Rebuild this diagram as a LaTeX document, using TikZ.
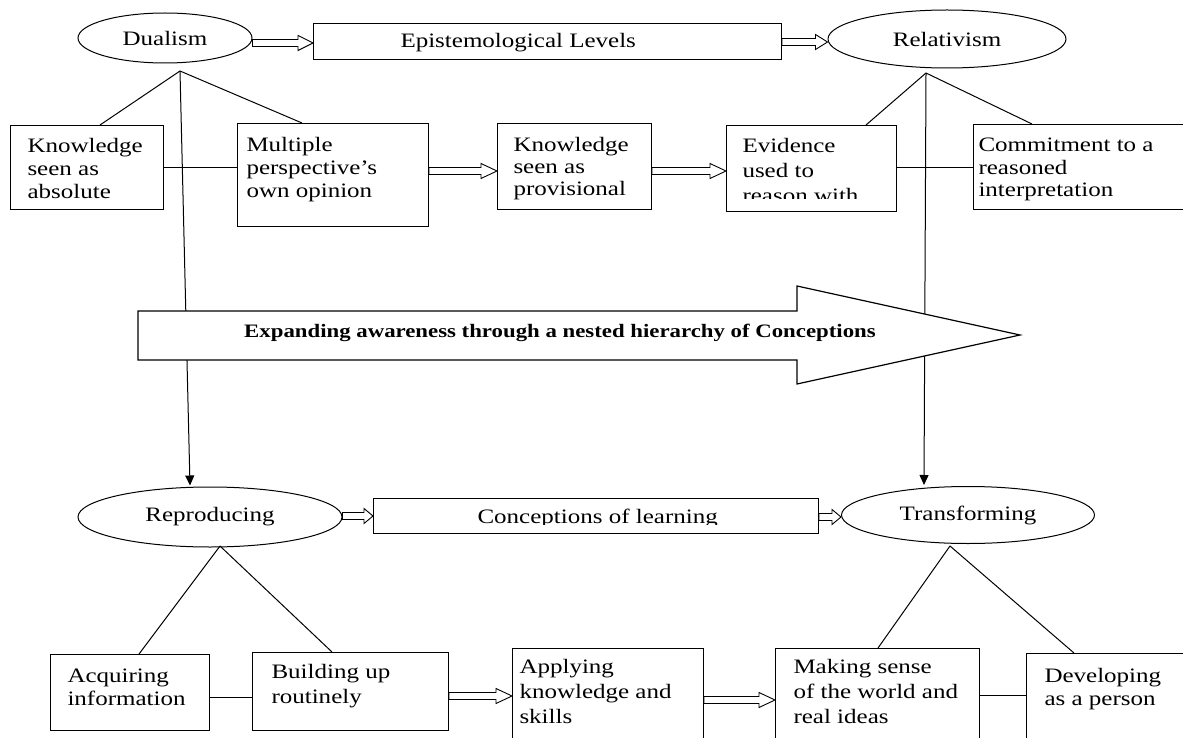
\documentclass[tikz,border=0pt]{standalone}
\usepackage{fontspec}
\setmainfont{Liberation Serif}[FakeStretch=1.22]
\newfontfamily\arrowfont{Liberation Serif}[FakeStretch=1.2]
\usetikzlibrary{shapes.geometric,arrows.meta,calc}
\newcommand\mylines[1]{\begin{tabular}[t]{@{}l@{}}#1\end{tabular}}
\begin{document}
\begin{tikzpicture}[x=1pt,y=-1pt,line width=1pt,
  box/.style={draw, anchor=north west, inner sep=0pt},
  ell/.style={draw, ellipse, inner sep=0pt, font=\fontsize{20.5}{23}\selectfont},
  txt/.style={anchor=base west, inner sep=0pt, font=\fontsize{20.5}{#1}\selectfont},
  txt/.default=23,
  blockarrow/.style={line width=0.9pt, to path={let \p1=(\tikztostart), \p2=(\tikztotarget) in
     (\x1,\y1+3.5pt) -- (\x2-#1,\y1+3.5pt) -- (\x2-#1,\y1+7.5pt) -- (\x2,\y1)
     -- (\x2-#1,\y1-7.5pt) -- (\x2-#1,\y1-3.5pt) -- (\x1,\y1-3.5pt) -- cycle}},
  blockarrow/.default=15pt,
  downarrow/.style={-{Triangle[length=10pt,width=9pt]}}
]
\fill[white] (0,0) rectangle (1183,738);
\useasboundingbox (0,0) rectangle (1183,738);

% ellipses
\node[ell, minimum width=174pt, minimum height=50pt] (dual) at (165,38) {Dualism};
\node[ell, minimum width=238pt, minimum height=58pt] (rel) at (947,39) {Relativism};
\node[ell, minimum width=264pt, minimum height=60pt] (rep) at (210,517) {Reproducing};
\node[ell, minimum width=253pt, minimum height=57pt] (tra) at (968,515) {Transforming};

% wide boxes
\node[box, minimum width=468pt, minimum height=36pt] (epi) at (313,23) {};
\node[box, minimum width=445pt, minimum height=35pt] (con) at (373,498) {};
\node[anchor=base west, inner sep=0pt, font=\fontsize{20.5}{24}\selectfont] (epit) at (400,48) {Epistemological Levels};
\begin{scope}
\clip (con.north west) rectangle (con.east |- 0,524);
\node[txt] (cont) at (477,523) {Conceptions of learning};
\end{scope}

% top boxes
\node[box, minimum width=153pt, minimum height=84pt] (ka) at (10,125) {};
\node[box, minimum width=191pt, minimum height=103pt] (mp) at (237,123) {};
\node[box, minimum width=154pt, minimum height=86pt] (kp) at (497,123) {};
\node[box, minimum width=170pt, minimum height=86pt] (ev) at (726,125) {};
\node[box, minimum width=230pt, minimum height=85pt] (cm) at (973,124) {};
\node[txt] (kat) at (27,153) {\mylines{Knowledge\\seen as\\absolute}};
\node[txt] (mpt) at (246,152) {\mylines{Multiple\\perspective’s\\own opinion}};
\node[txt=22] (kpt) at (513,152) {\mylines{Knowledge\\seen as\\provisional}};
\begin{scope}
\clip (ev.north west) rectangle (ev.east |- 0,199);
\node[txt=25] (evt) at (742,153) {\mylines{Evidence\\used to\\reason with}};
\end{scope}
\node[txt=22.5] (cmt) at (978,152) {\mylines{Commitment to a\\reasoned\\interpretation}};

% bottom boxes
\node[box, minimum width=159pt, minimum height=76pt] (acq) at (50,654) {};
\node[box, minimum width=196pt, minimum height=78pt] (bld) at (252,652) {};
\node[box, minimum width=191pt, minimum height=100pt] (app) at (512,648) {};
\node[box, minimum width=204pt, minimum height=100pt] (mk) at (775,648) {};
\node[box, minimum width=180pt, minimum height=100pt] (dev) at (1026,653) {};
\node[txt] (acqt) at (67,682) {\mylines{Acquiring\\information}};
\node[txt=25] (bldt) at (271,678) {\mylines{Building up\\routinely}};
\node[txt=25] (appt) at (519,673) {\mylines{Applying\\knowledge and\\skills}};
\node[txt=25] (mkt) at (793,673) {\mylines{Making sense\\of the world and\\real ideas}};
\node[txt] (devt) at (1044,682) {\mylines{Developing\\as a person}};

% apex coordinates
\coordinate (dapex) at (180,71);
\coordinate (rapex) at (926,73);
\coordinate (papex) at (220,546);
\coordinate (tapex) at (950,546);

% tree lines
\draw (dapex) -- ($(ka.north west)+(90,0)$);
\draw (dapex) -- ($(mp.north west)+(65,0)$);
\draw (rapex) -- ($(ev.north west)+(140,0)$);
\draw (rapex) -- ($(cm.north west)+(59,0)$);
\draw (papex) -- ($(acq.north west)+(89,0)$);
\draw (papex) -- ($(bld.north west)+(80,0)$);
\draw (tapex) -- ($(mk.north west)+(103,0)$);
\draw (tapex) -- ($(dev.north west)+(48,0)$);

% vertical arrows
\draw[downarrow] (dapex) -- ($(rep.north)+(-20,-1)$);
\draw[downarrow] (rapex) -- ($(tra.north)+(-44,-1)$);

% horizontal connecting lines
\draw (ka.east |- 0,168) -- (mp.west |- 0,168);
\draw (ev.east |- 0,168) -- (cm.west |- 0,168);
\draw (acq.east |- 0,697) -- (bld.west |- 0,697);
\draw (mk.east |- 0,695) -- (dev.west |- 0,695);

% block arrows
\draw[blockarrow] (dual.east |- 0,43) to (epi.west |- 0,43);
\draw[blockarrow=12pt] (epi.east |- 0,42) to (rel.west |- 0,42);
\draw[blockarrow=16pt] (mp.east |- 0,171) to (kp.west |- 0,171);
\draw[blockarrow=16pt] (kp.east |- 0,171) to (ev.west |- 0,171);
\draw[blockarrow=9pt] (rep.east |- 0,516) to (con.west |- 0,516);
\draw[blockarrow=9pt] (con.east |- 0,517) to (tra.west |- 0,517);
\draw[blockarrow=16pt] (bld.east |- 0,696) to (app.west |- 0,696);
\draw[blockarrow=16pt] (app.east |- 0,700) to (mk.west |- 0,700);

% big arrow
\draw[fill=white, line width=1.2pt] (138,311) -- (797,311) -- (797,286) -- (1020,335) -- (797,384) -- (797,360) -- (138,360) -- cycle;
\node[anchor=base, inner sep=0pt, font=\arrowfont\bfseries\fontsize{19}{22}\selectfont] (bigt) at (560,337) {Expanding awareness through a nested hierarchy of Conceptions};
\end{tikzpicture}
\end{document}
